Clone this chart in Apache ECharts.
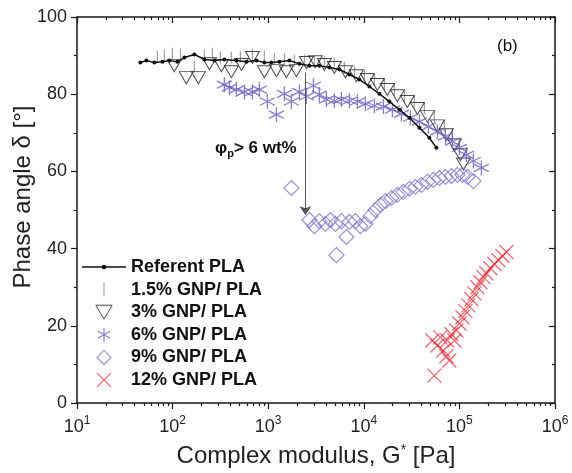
<!DOCTYPE html>
<html>
<head>
<meta charset="utf-8">
<script src="https://cdn.jsdelivr.net/npm/echarts@6.0.0/dist/echarts.min.js"></script>
<style>
html, body { margin: 0; padding: 0; background: #fff; }
#box1 { width: 572px; height: 473px; }
</style>
</head>
<body>
<div id="box1"></div>
<script>
// complex modulus G* [Pa] and phase angle [°]
const refG = [46, 53.2, 64.5, 78.2, 92.6, 112, 133, 169, 215, 274, 348, 465, 592, 753, 912, 1080, 1310, 1667, 2120, 2700, 3430, 4370, 5560, 7070, 9000, 11450, 14560, 18530, 23560, 30000, 38190, 48530, 57430];
const refDelta = [88.2, 88.7, 88.2, 88.4, 88.7, 88.4, 89.5, 90.3, 89.0, 88.7, 89.0, 88.7, 88.4, 88.7, 88.2, 88.2, 88.4, 88.7, 87.9, 87.4, 87.4, 86.9, 86.4, 85.1, 83.8, 82.0, 80.1, 78.1, 76.0, 73.9, 71.3, 68.7, 66.1];

const p15G = [69.3, 82.1, 99.5, 121, 169, 215, 261, 316, 412, 512, 684, 912, 1161, 1477, 1879, 2392, 3043, 3873, 4921, 6266, 7980, 10140, 12910, 16410, 20890, 26610, 33810, 43050, 54700, 69660, 84530, 100000];
const p15Delta = [89.7, 90.0, 90.5, 90.3, 87.1, 90.0, 90.5, 89.5, 89.5, 89.7, 90.3, 89.7, 89.2, 89.0, 88.7, 88.7, 88.4, 88.2, 87.7, 86.9, 85.8, 84.8, 83.8, 82.5, 81.2, 79.6, 78.1, 76.3, 74.2, 71.8, 69.5, 66.9];

const p3G = [104, 139, 186, 243, 324, 412, 525, 684, 912, 1219, 1549, 1972, 2510, 3118, 3873, 4921, 6425, 8370, 10900, 13870, 17660, 22450, 28580, 36380, 46240, 58880, 73100, 88700, 102400, 110200];
const p3Delta = [87.4, 84.3, 84.3, 87.9, 87.4, 85.8, 87.7, 89.5, 85.8, 86.1, 85.8, 86.1, 88.2, 88.4, 87.7, 86.9, 85.8, 84.8, 83.8, 82.5, 81.2, 79.6, 78.1, 76.3, 74.2, 71.8, 69.5, 66.9, 64.3, 61.9];

const p6G = [348, 393, 465, 564, 684, 809, 981, 1219, 1477, 1750, 2120, 2510, 2972, 3430, 4060, 4921, 5830, 7070, 8570, 10390, 12910, 16030, 19910, 24720, 30700, 38190, 47430, 58880, 71450, 84530, 100000, 118300, 140000, 169800];
const p6Delta = [82.5, 81.7, 81.2, 80.6, 80.6, 81.2, 78.1, 74.7, 80.1, 78.1, 80.6, 79.4, 82.2, 79.9, 78.6, 78.3, 78.6, 78.3, 78.1, 77.5, 77.0, 76.8, 76.0, 74.9, 73.9, 72.9, 71.6, 70.3, 69.0, 67.7, 66.1, 64.3, 62.7, 60.9];

const p9G = [1750, 2700, 3043, 3430, 3963, 4477, 5047, 5166, 5830, 6577, 7070, 8170, 9210, 10390, 11720, 13220, 14920, 16830, 19450, 22450, 25950, 30000, 34650, 40070, 46240, 53460, 61800, 71450, 82600, 95300, 107600, 121400, 140000];
const p9Delta = [55.7, 47.4, 45.8, 47.1, 46.4, 47.4, 46.4, 38.3, 47.1, 43.0, 46.9, 47.1, 45.8, 46.4, 48.4, 50.0, 51.3, 52.3, 53.1, 53.9, 54.7, 55.5, 56.0, 56.5, 57.3, 57.8, 58.3, 58.6, 58.8, 59.1, 59.1, 58.6, 57.5];

const p12G = [54700, 52240, 58880, 63240, 68040, 73100, 78520, 74820, 82410, 88720, 93110, 100000, 107400, 115600, 124200, 133600, 143600, 154200, 165900, 178200, 191400, 210900, 232300, 255900, 281800, 310500];
const p12Delta = [7.1, 16.2, 14.9, 17.0, 13.6, 12.1, 11.0, 16.2, 17.8, 16.2, 18.8, 20.6, 22.2, 23.8, 25.3, 26.9, 28.4, 30.0, 31.3, 32.6, 33.6, 34.9, 36.0, 37.0, 38.1, 39.1];

// arrow "phi_p > 6 wt%"
const arrowG = 2450;
const arrowFrom = 85.6;
const arrowTo = 48.7;

const decades = [10, 100, 1e3, 1e4, 1e5, 1e6];
const minorG = [];
decades.slice(0, -1).forEach(d => {
    for (let m = 2; m <= 9; m++) minorG.push(m * d);
});

const sFont = 'Liberation Sans, Arial, sans-serif';
const zip = (aX, aY) => aX.map((x, i) => [x, aY[i]]);

const oLine = { show: true, onZero: false, lineStyle: { color: '#1a1a1a', width: 1.5 } };
const oTickLine = { color: '#1a1a1a', width: 1.2 };
const oLogBase = { type: 'log', logBase: 10, min: 10, max: 1e6, splitLine: { show: false } };

const myChart = echarts.init(document.getElementById('box1'));
const option = {
    animation: false,
    backgroundColor: '#fff',
    grid: { left: 77, right: 17, top: 17, bottom: 70 },
    xAxis: [
        {
            ...oLogBase,
            position: 'bottom',
            axisLine: oLine,
            axisTick: { show: true, inside: false, length: 6, customValues: decades, lineStyle: oTickLine },
            axisLabel: {
                customValues: decades,
                margin: 12,
                formatter: v => `{b|10}{s|${Math.round(Math.log10(v))}}`,
                rich: {
                    b: { fontSize: 18, fontFamily: sFont, color: '#222', verticalAlign: 'bottom' },
                    s: { fontSize: 12, fontFamily: sFont, color: '#222', verticalAlign: 'bottom', padding: [0, 0, 9, 0] },
                },
            },
            name: '{a|Complex modulus, G}{s|*}{a| [Pa]}',
            nameLocation: 'middle',
            nameGap: 40,
            nameMoveOverlap: false,
            nameTextStyle: {
                rich: {
                    a: { fontSize: 24, fontFamily: sFont, color: '#222', verticalAlign: 'bottom' },
                    s: { fontSize: 14, fontFamily: sFont, color: '#222', verticalAlign: 'bottom', padding: [0, 0, 11, 0] },
                },
            },
        },
        {
            ...oLogBase,
            position: 'bottom',
            axisLine: { show: false, onZero: false },
            axisTick: { show: true, inside: false, length: 3, customValues: minorG, lineStyle: oTickLine },
            axisLabel: { show: false },
        },
        {
            ...oLogBase,
            position: 'top',
            axisLine: oLine,
            axisTick: { show: true, inside: true, length: 6, customValues: decades, lineStyle: oTickLine },
            axisLabel: { show: false },
        },
        {
            ...oLogBase,
            position: 'top',
            axisLine: { show: false, onZero: false },
            axisTick: { show: true, inside: true, length: 3, customValues: minorG, lineStyle: oTickLine },
            axisLabel: { show: false },
        },
    ],
    yAxis: [
        {
            type: 'value', min: 0, max: 100, interval: 20,
            position: 'left',
            axisLine: oLine,
            axisTick: { show: true, inside: false, length: 6, lineStyle: oTickLine },
            minorTick: { show: true, splitNumber: 2, length: 3, lineStyle: oTickLine },
            axisLabel: { fontSize: 18, fontFamily: sFont, color: '#222', margin: 10 },
            splitLine: { show: false },
            name: 'Phase angle δ [°]',
            nameLocation: 'middle',
            nameGap: 42,
            nameMoveOverlap: false,
            nameTextStyle: { fontSize: 24, fontFamily: sFont, color: '#222', padding: [0, 0, 0, 26] },
        },
        {
            type: 'value', min: 0, max: 100, interval: 20,
            position: 'right',
            axisLine: oLine,
            axisTick: { show: true, inside: true, length: 6, lineStyle: oTickLine },
            minorTick: { show: true, splitNumber: 2, length: 3, lineStyle: oTickLine },
            axisLabel: { show: false },
            splitLine: { show: false },
        },
    ],
    legend: {
        orient: 'vertical',
        left: 82,
        top: 258,
        padding: 0,
        itemWidth: 44,
        itemHeight: 14,
        itemGap: 4.6,
        selectedMode: false,
        textStyle: { fontSize: 18, fontWeight: 'bold', color: '#111', fontFamily: sFont, lineHeight: 18 },
        data: [
            { name: 'Referent PLA', icon: 'path://M0,4.3H46V5.7H0Z M23,2.6A2.4,2.4 0 1 1 22.99,2.6Z', itemStyle: { borderWidth: 0 } },
            { name: '1.5% GNP/ PLA', icon: 'path://M0,0H1V12H0Z', itemStyle: { borderWidth: 0 } },
            { name: '3% GNP/ PLA', itemStyle: { borderWidth: 1 } },
            { name: '6% GNP/ PLA', itemStyle: { borderWidth: 1.2 } },
            { name: '9% GNP/ PLA', itemStyle: { borderWidth: 1.1 } },
            { name: '12% GNP/ PLA', itemStyle: { borderWidth: 1.2 } },
        ],
    },
    graphic: [
        {
            type: 'text', left: 215, top: 140, silent: true,
            style: {
                text: '{a|φ}{p|p}{a|> 6 wt%}',
                rich: {
                    a: { fontSize: 17, fontWeight: 'bold', fontFamily: sFont, fill: '#111', verticalAlign: 'top' },
                    p: { fontSize: 11, fontWeight: 'bold', fontFamily: sFont, fill: '#111', verticalAlign: 'top', padding: [8, 0, 0, 0] },
                },
            },
        },
        {
            type: 'text', left: 497, top: 38, silent: true,
            style: { text: '(b)', fontSize: 17, fontFamily: sFont, fill: '#111' },
        },
    ],
    series: [
        {
            name: '1.5% GNP/ PLA', type: 'scatter', silent: true,
            symbol: 'rect', symbolSize: [1.3, 12],
            itemStyle: { color: '#8c8c8c' },
            data: zip(p15G, p15Delta),
        },
        {
            name: '3% GNP/ PLA', type: 'scatter', silent: true,
            symbol: 'path://M0,0L14,0L7,12Z', symbolSize: [14, 12],
            itemStyle: { color: 'rgba(0,0,0,0)', borderColor: '#222', borderWidth: 1 },
            data: zip(p3G, p3Delta),
        },
        {
            name: '6% GNP/ PLA', type: 'scatter', silent: true,
            symbol: 'path://M5,0L5,10M0.67,2.5L9.33,7.5M0.67,7.5L9.33,2.5', symbolSize: 15,
            itemStyle: { color: 'rgba(0,0,0,0)', borderColor: '#6f5cc0', borderWidth: 1.3 },
            data: zip(p6G, p6Delta),
        },
        {
            name: '9% GNP/ PLA', type: 'scatter', silent: true,
            symbol: 'path://M5,0L10,5L5,10L0,5Z', symbolSize: 15,
            itemStyle: { color: 'rgba(0,0,0,0)', borderColor: '#8576c8', borderWidth: 1.2 },
            data: zip(p9G, p9Delta),
        },
        {
            name: '12% GNP/ PLA', type: 'scatter', silent: true,
            symbol: 'path://M0,0L10,10M10,0L0,10', symbolSize: 14,
            itemStyle: { color: 'rgba(0,0,0,0)', borderColor: 'rgba(226,40,52,0.85)', borderWidth: 1.3 },
            data: zip(p12G, p12Delta),
        },
        {
            name: 'Referent PLA', type: 'line', silent: true,
            symbol: 'circle', symbolSize: 4, showAllSymbol: true,
            itemStyle: { color: '#111' },
            lineStyle: { color: '#111', width: 1.5 },
            data: zip(refG, refDelta),
            markLine: {
                silent: true,
                symbol: ['none', 'arrow'],
                symbolSize: 9,
                label: { show: false },
                lineStyle: { color: '#555', width: 1, type: 'solid' },
                data: [[{ coord: [arrowG, arrowFrom] }, { coord: [arrowG, arrowTo] }]],
            },
        },
    ],
};
myChart.setOption(option);
</script>
</body>
</html>
